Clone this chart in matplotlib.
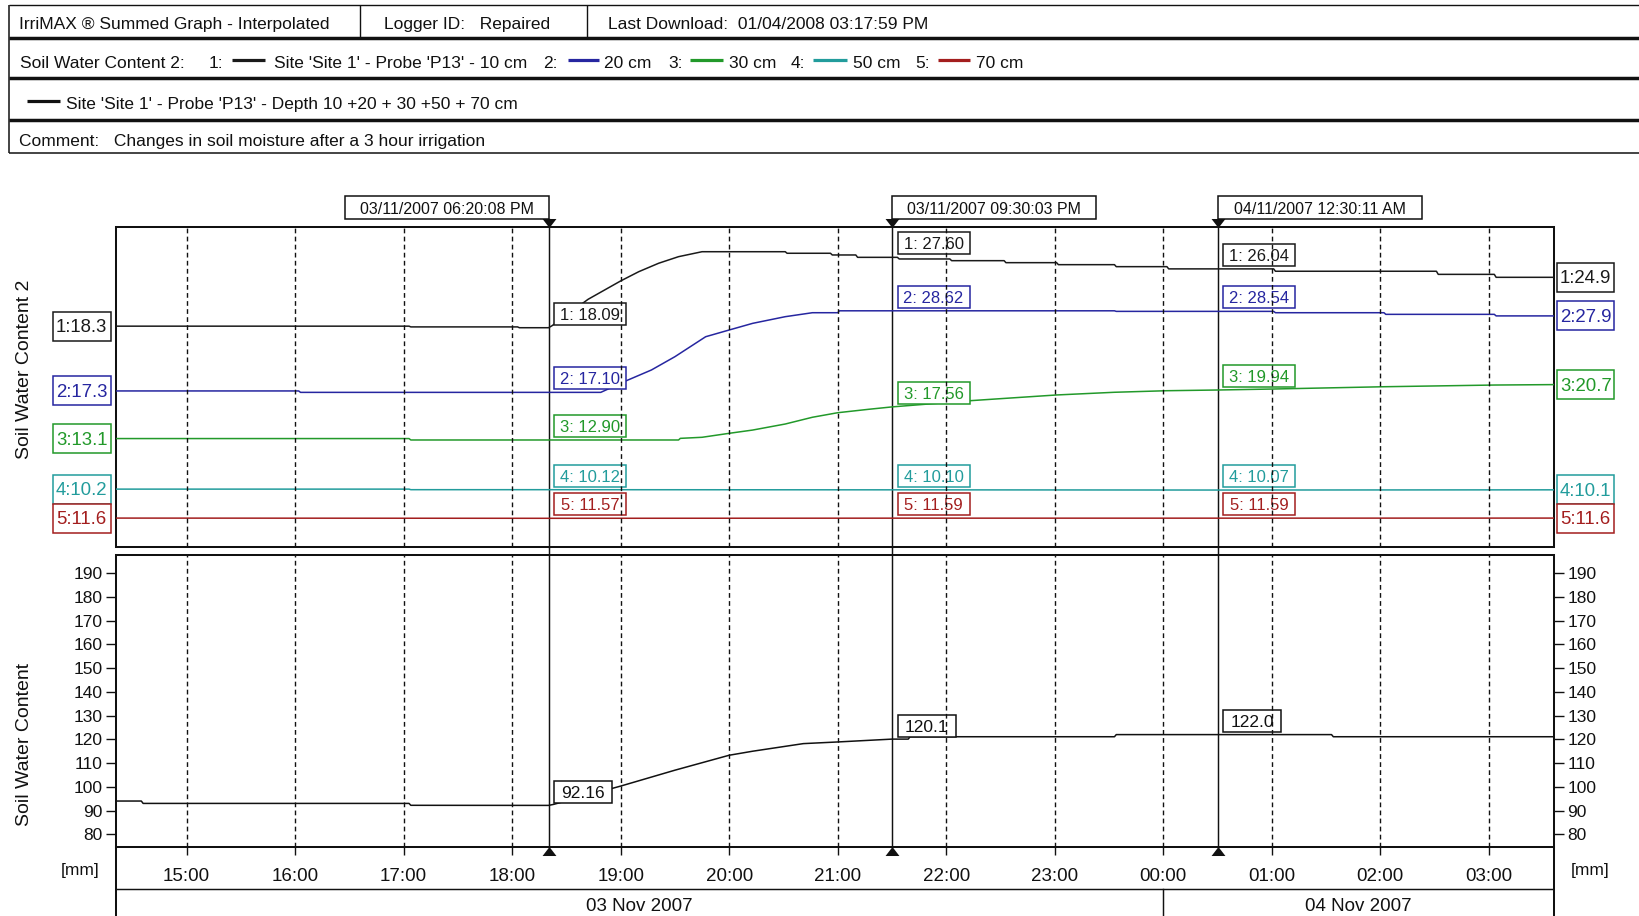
import numpy as np
import pandas as pd
import matplotlib
matplotlib.use("Agg")
import matplotlib.pyplot as plt
import matplotlib.dates as mdates
import matplotlib.transforms as mtransforms
from matplotlib.path import Path

W, H, DPI = 1639, 916, 100
plt.rcParams["font.family"] = ["Liberation Sans", "DejaVu Sans"]

# ---------------- header text ----------------
hdr_title = "IrriMAX \u00ae Summed Graph - Interpolated"
hdr_logger = "Logger ID:   Repaired"
hdr_download = "Last Download:  01/04/2008 03:17:59 PM"
legend_title = "Soil Water Content 2:"
depth_names = ["Site 'Site 1' - Probe 'P13' - 10 cm", "20 cm", "30 cm", "50 cm", "70 cm"]
sum_name = "Site 'Site 1' - Probe 'P13' - Depth 10 +20 + 30 +50 + 70 cm"
comment = "Comment:   Changes in soil moisture after a 3 hour irrigation"

# ---------------- time window ----------------
view_start = "2007-11-03 14:21"
view_end = "2007-11-04 03:36"
day_starts = ["2007-11-03 00:00", "2007-11-04 00:00"]
day_labels = ["03 Nov 2007", "04 Nov 2007"]
cursor_times = ["2007-11-03 18:20:08", "2007-11-03 21:30:03", "2007-11-04 00:30:11"]

# ---------------- soil water content per depth ----------------
t_10cm = ["2007-11-03 14:21", "2007-11-03 17:03", "2007-11-03 17:04", "2007-11-03 18:03",
          "2007-11-03 18:04", "2007-11-03 18:20:08", "2007-11-03 18:22", "2007-11-03 18:42",
          "2007-11-03 19:00", "2007-11-03 19:10", "2007-11-03 19:21", "2007-11-03 19:32",
          "2007-11-03 19:45", "2007-11-03 20:31", "2007-11-03 20:32", "2007-11-03 20:56",
          "2007-11-03 20:57", "2007-11-03 21:10", "2007-11-03 21:11", "2007-11-03 21:30:03",
          "2007-11-03 21:33", "2007-11-03 21:34", "2007-11-03 22:02", "2007-11-03 22:03",
          "2007-11-03 22:32", "2007-11-03 22:33", "2007-11-03 23:01", "2007-11-03 23:02",
          "2007-11-03 23:33", "2007-11-03 23:34", "2007-11-04 00:02", "2007-11-04 00:03",
          "2007-11-04 00:30:11", "2007-11-04 01:01", "2007-11-04 01:02", "2007-11-04 02:31",
          "2007-11-04 02:32", "2007-11-04 03:03", "2007-11-04 03:04", "2007-11-04 03:36"]
swc_10cm = [18.30, 18.30, 18.20, 18.20, 18.09, 18.09, 18.35, 21.93, 24.41, 25.66,
            26.80, 27.69, 28.36, 28.36, 28.15, 28.15, 27.92, 27.92, 27.60, 27.60,
            27.60, 27.38, 27.38, 27.15, 27.15, 26.88, 26.88, 26.61, 26.61, 26.34,
            26.34, 26.04, 26.04, 26.04, 25.72, 25.72, 25.30, 25.30, 24.90, 24.90]

t_20cm = ["2007-11-03 14:21", "2007-11-03 16:02", "2007-11-03 16:03", "2007-11-03 18:20:08",
          "2007-11-03 18:49", "2007-11-03 19:04", "2007-11-03 19:17", "2007-11-03 19:30",
          "2007-11-03 19:47", "2007-11-03 20:00", "2007-11-03 20:13", "2007-11-03 20:31",
          "2007-11-03 20:46", "2007-11-03 21:00", "2007-11-03 21:01", "2007-11-03 21:30:03",
          "2007-11-03 23:33", "2007-11-03 23:34", "2007-11-04 00:30:11", "2007-11-04 01:01",
          "2007-11-04 01:02", "2007-11-04 02:02", "2007-11-04 02:03", "2007-11-04 03:03",
          "2007-11-04 03:04", "2007-11-04 03:36"]
swc_20cm = [17.30, 17.30, 17.10, 17.10, 17.10, 18.84, 20.26, 22.14, 24.96, 25.91,
            26.85, 27.79, 28.35, 28.35, 28.62, 28.62, 28.62, 28.54, 28.54, 28.54,
            28.35, 28.35, 28.12, 28.12, 27.90, 27.90]

t_30cm = ["2007-11-03 14:21", "2007-11-03 17:03", "2007-11-03 17:04", "2007-11-03 18:20:08",
          "2007-11-03 19:32", "2007-11-03 19:33", "2007-11-03 19:45", "2007-11-03 20:00",
          "2007-11-03 20:13", "2007-11-03 20:31", "2007-11-03 20:46", "2007-11-03 21:00",
          "2007-11-03 21:17", "2007-11-03 21:30:03", "2007-11-03 22:13", "2007-11-03 22:33",
          "2007-11-03 23:01", "2007-11-03 23:33", "2007-11-04 00:02", "2007-11-04 00:30:11",
          "2007-11-04 01:01", "2007-11-04 02:02", "2007-11-04 03:03", "2007-11-04 03:36"]
swc_30cm = [13.10, 13.10, 12.90, 12.90, 12.90, 13.13, 13.28, 13.84, 14.30, 15.15,
            16.10, 16.74, 17.22, 17.56, 18.43, 18.77, 19.24, 19.62, 19.84, 19.94,
            20.08, 20.40, 20.64, 20.70]

t_50cm = ["2007-11-03 14:21", "2007-11-03 17:03", "2007-11-03 17:04", "2007-11-03 18:20:08",
          "2007-11-03 21:30:03", "2007-11-04 00:30:11", "2007-11-04 03:36"]
swc_50cm = [10.20, 10.20, 10.12, 10.12, 10.10, 10.07, 10.10]

t_70cm = ["2007-11-03 14:21", "2007-11-03 18:20:08", "2007-11-03 21:30:03",
          "2007-11-04 00:30:11", "2007-11-04 03:36"]
swc_70cm = [11.60, 11.57, 11.59, 11.59, 11.60]

# ---------------- summed profile (mm) ----------------
t_total = ["2007-11-03 14:21", "2007-11-03 14:35", "2007-11-03 14:36", "2007-11-03 17:03",
           "2007-11-03 17:04", "2007-11-03 18:20:08", "2007-11-03 18:23", "2007-11-03 19:00",
           "2007-11-03 19:30", "2007-11-03 20:00", "2007-11-03 20:13", "2007-11-03 20:41",
           "2007-11-03 21:00", "2007-11-03 21:30:03", "2007-11-03 21:39", "2007-11-03 21:40",
           "2007-11-03 23:33", "2007-11-03 23:34", "2007-11-04 00:30:11", "2007-11-04 01:33",
           "2007-11-04 01:34", "2007-11-04 03:36"]
swc_total = [94.0, 94.0, 93.0, 93.0, 92.2, 92.16, 92.6, 100.3, 107.0, 113.3,
             115.0, 118.2, 118.9, 120.1, 120.1, 121.1, 121.1, 122.0, 122.0, 122.0,
             121.1, 121.1]
total_ticks = list(range(80, 200, 10))

depth_times = [t_10cm, t_20cm, t_30cm, t_50cm, t_70cm]
depth_values = [swc_10cm, swc_20cm, swc_30cm, swc_50cm, swc_70cm]
depth_colors = ["#1a1a1a", "#2626a0", "#22992a", "#229c9c", "#a31e1e"]
# each probe is stacked on its own vertical scale
depth_windows = [(-11.5, 31.74), (-4.7, 40.5), (-2.13, 42.94), (2.09, 47.16), (7.57, 52.64)]
total_window = (74.5, 197.7)

INK = "#111111"


def to_num(times):
    return mdates.date2num(pd.to_datetime(times, format="ISO8601").to_pydatetime())


def one_num(t):
    return mdates.date2num(pd.Timestamp(t).to_pydatetime())


def fixed_box(w, h, lift):
    """Rectangle of w x h display pixels centred on a label's glyphs."""
    def style(x0, y0, width, height, mutation_size):
        cx = x0 + width / 2
        cy = y0 + height / 2 + lift * mutation_size
        return Path([(cx - w / 2, cy - h / 2), (cx + w / 2, cy - h / 2),
                     (cx + w / 2, cy + h / 2), (cx - w / 2, cy + h / 2),
                     (cx - w / 2, cy - h / 2)], closed=True)
    return style


LIFT = 0.09


def boxed(ax, text, xy, xycoords, dx, dy, color, size, w, h, lw=1.1):
    size_px = size * DPI / 72
    ax.annotate(text, xy=xy, xycoords=xycoords,
                xytext=(dx, dy - LIFT * size_px), textcoords="offset pixels",
                ha="center", va="center", color=color, fontsize=size,
                annotation_clip=False, zorder=3,
                bbox=dict(boxstyle=fixed_box(w, h, LIFT), fc="white", ec=color, lw=lw))


def frac_rect(x0, y0, x1, y1):
    return [x0 / W, 1 - y1 / H, (x1 - x0) / W, (y1 - y0) / H]


fig = plt.figure(figsize=(W / DPI, H / DPI), dpi=DPI)
fig.patch.set_facecolor("white")

# ---------------- header block (pixel coordinates) ----------------
ax_hdr = fig.add_axes([0, 0, 1, 1])
ax_hdr.set_xlim(0, W)
ax_hdr.set_ylim(H, 0)
ax_hdr.axis("off")

HX0, HX1 = 9.4, W + 10
hl = dict(color=INK, solid_capstyle="butt", clip_on=False)
ax_hdr.plot([HX0, HX1], [5.3, 5.3], lw=1.0, **hl)
for yy in (37.8, 77.6, 119.8):
    ax_hdr.plot([HX0, HX1], [yy, yy], lw=2.5, **hl)
ax_hdr.plot([HX0, HX1], [153.3, 153.3], lw=1.1, **hl)
ax_hdr.plot([HX0, HX0], [5.3, 153.3], lw=1.1, **hl)
for xx in (359.8, 587.0):
    ax_hdr.plot([xx, xx], [5.3, 37.8], lw=1.0, **hl)

HFS = 12.5
ax_hdr.text(19, 29.3, hdr_title, fontsize=HFS, va="baseline", color=INK)
ax_hdr.text(384, 29.3, hdr_logger, fontsize=HFS, va="baseline", color=INK)
ax_hdr.text(608, 29.3, hdr_download, fontsize=HFS, va="baseline", color=INK)

ax_hdr.text(20, 67.7, legend_title, fontsize=HFS, va="baseline", color=INK)
num_x = [209, 543.5, 668, 791, 915.7]
swatch_x = [(232, 265), (567.6, 599), (690, 723), (813, 847), (937.6, 970)]
name_x = [274, 604, 728.6, 853, 976.3]
for k in range(5):
    ax_hdr.text(num_x[k], 67.7, f"{k + 1}:", fontsize=HFS, va="baseline", color=INK)
    ax_hdr.plot(swatch_x[k], [59.8, 59.8], lw=2.3, color=depth_colors[k], solid_capstyle="butt")
    ax_hdr.text(name_x[k], 67.7, depth_names[k], fontsize=HFS, va="baseline", color=INK)

ax_hdr.plot([27, 59.6], [101, 101], lw=2.3, color=INK, solid_capstyle="butt")
ax_hdr.text(66, 109.4, sum_name, fontsize=HFS, va="baseline", color=INK)
ax_hdr.text(19, 146.0, comment, fontsize=HFS, va="baseline", color=INK)

# axis titles and units
ax_hdr.text(25, 369, "Soil Water Content 2", rotation=90, ha="center", va="center",
            fontsize=14, color=INK)
ax_hdr.text(25, 744, "Soil Water Content", rotation=90, ha="center", va="center",
            fontsize=14, color=INK)
ax_hdr.text(80, 870, "[mm]", ha="center", va="center", fontsize=12.5, color=INK)
ax_hdr.text(1590, 870, "[mm]", ha="center", va="center", fontsize=12.5, color=INK)

# ---------------- panels ----------------
PL, PR = 116, 1554
TOP_T, TOP_B = 226.7, 546.7
BOT_T, BOT_B = 555.0, 847.3

ax_top = fig.add_axes(frac_rect(PL, TOP_T, PR, TOP_B))
ax_bot = fig.add_axes(frac_rect(PL, BOT_T, PR, BOT_B), sharex=ax_top)
ax_day = fig.add_axes(frac_rect(PL, BOT_B, PR, H), sharex=ax_top)

x_lo, x_hi = one_num(view_start), one_num(view_end)
cursors = [one_num(t) for t in cursor_times]

for ax in (ax_top, ax_bot):
    for s in ax.spines.values():
        s.set_linewidth(1.45)
        s.set_color(INK)
    ax.set_facecolor("white")

hour_locator = mdates.HourLocator()
ax_top.xaxis_date()
ax_top.xaxis.set_major_locator(hour_locator)
ax_top.xaxis.set_major_formatter(mdates.DateFormatter("%H:%M"))
ax_top.set_ylim(0, 1)
ax_top.set_yticks([])
ax_top.tick_params(axis="x", bottom=False, labelbottom=False, top=False)

# summed profile panel
ax_bot.plot(to_num(t_total), swc_total, color=INK, lw=1.1, zorder=2)
ax_bot.set_ylim(*total_window)
ax_bot.set_yticks(total_ticks)
ax_bot.tick_params(axis="y", direction="out", length=7.2, width=1.0, pad=2.5,
                   labelsize=12.5, left=True, right=True, labelleft=True,
                   labelright=True, colors=INK)
ax_bot.tick_params(axis="x", direction="out", length=5.8, width=1.0, pad=9.0,
                   labelsize=13.5, bottom=True, top=False, colors=INK)

# date band under the time axis
ax_day.patch.set_visible(False)
ax_day.set_ylim(0, 1)
ax_day.set_yticks([])
ax_day.tick_params(axis="x", bottom=False, labelbottom=False, top=False)
ax_day.spines["top"].set_visible(False)
ax_day.spines["bottom"].set_visible(False)
for side in ("left", "right"):
    ax_day.spines[side].set_linewidth(1.45)
    ax_day.spines[side].set_color(INK)
band_y = (H - 889) / (H - BOT_B)
ax_day.axhline(band_y, color=INK, lw=1.05)
day_nums = [one_num(d) for d in day_starts]
for k, d0 in enumerate(day_nums):
    seg_lo = max(d0, x_lo)
    seg_hi = min(d0 + 1, x_hi)
    if d0 > x_lo:
        ax_day.axvline(d0, ymin=0, ymax=band_y, color=INK, lw=1.05)
    ax_day.text((seg_lo + seg_hi) / 2, (H - 906.5) / (H - BOT_B), day_labels[k],
                ha="center", va="center", fontsize=13.5, color=INK,
                transform=ax_day.get_xaxis_transform())

# depth series, each on its own scale
depth_axes = []
for k in range(5):
    ax_s = ax_top.twinx()
    ax_s.axis("off")
    ax_s.plot(to_num(depth_times[k]), depth_values[k], color=depth_colors[k], lw=1.1)
    ax_s.set_ylim(*depth_windows[k])
    depth_axes.append(ax_s)

# cursors
tri_down = Path([(-1, 0.65), (1, 0.65), (0, -0.65), (-1, 0.65)], closed=True)
tri_up = Path([(-1, -0.65), (1, -0.65), (0, 0.65), (-1, -0.65)], closed=True)
for xc in cursors:
    ax_top.axvline(xc, ymin=0, ymax=1 + 7.4 / (TOP_B - TOP_T), color=INK, lw=1.05,
                   clip_on=False, zorder=3)
    ax_bot.axvline(xc, ymin=0, ymax=1 + (BOT_T - TOP_B) / (BOT_B - BOT_T), color=INK,
                   lw=1.05, clip_on=False, zorder=3)
    ax_top.plot([xc], [1 + 3.8 / (TOP_B - TOP_T)], marker=tri_down, ms=10, mew=0,
                color=INK, transform=ax_top.get_xaxis_transform(), clip_on=False,
                linestyle="none", zorder=4)
    ax_bot.plot([xc], [-4.0 / (BOT_B - BOT_T)], marker=tri_up, ms=10, mew=0,
                color=INK, transform=ax_bot.get_xaxis_transform(), clip_on=False,
                linestyle="none", zorder=4)

ax_top.set_xlim(x_lo, x_hi)

# ---------------- labels ----------------
ax_lbl = ax_top.twinx()
ax_lbl.axis("off")

for k, ax_s in enumerate(depth_axes):
    tnum = to_num(depth_times[k])
    vals = depth_values[k]
    col = depth_colors[k]
    edge_tf = mtransforms.blended_transform_factory(ax_top.transAxes, ax_s.transData)
    boxed(ax_lbl, f"{k + 1}:{vals[0]:.1f}", (0, vals[0]), edge_tf, -34.3, 0, col, 13.4, 58, 29)
    boxed(ax_lbl, f"{k + 1}:{vals[-1]:.1f}", (1, vals[-1]), edge_tf, 31.7, 0, col, 13.4, 57, 29)
    for xc in cursors:
        v = float(np.interp(xc, tnum, vals))
        boxed(ax_lbl, f"{k + 1}: {v:.2f}", (xc, v), ax_s.transData, 41.5, 14, col, 12, 72, 22)

ttot = to_num(t_total)
for xc in cursors:
    v = float(np.interp(xc, ttot, swc_total))
    boxed(ax_bot, f"{v:#.4g}", (xc, v), ax_bot.transData, 34.5, 13.5, INK, 12.5, 58, 22)

for j, (xc, tstr) in enumerate(zip(cursors, cursor_times)):
    label = pd.Timestamp(tstr).strftime("%d/%m/%Y %I:%M:%S %p")
    dx = -102 if j == 0 else 102
    boxed(ax_lbl, label, (xc, 1), ax_top.get_xaxis_transform(), dx, 18.9, INK, 11.5, 204, 23)

# dashed hour lines, drawn over the value tags
dash = (0, (3.4, 2.4))
hours = hour_locator.tick_values(mdates.num2date(x_lo), mdates.num2date(x_hi))
for xh in hours:
    if x_lo < xh < x_hi:
        ax_lbl.axvline(xh, color=INK, lw=1.0, linestyle=dash, zorder=5)
        ax_bot.axvline(xh, color=INK, lw=1.0, linestyle=dash, zorder=5)

fig.savefig("out.png", dpi=DPI, facecolor="white")
